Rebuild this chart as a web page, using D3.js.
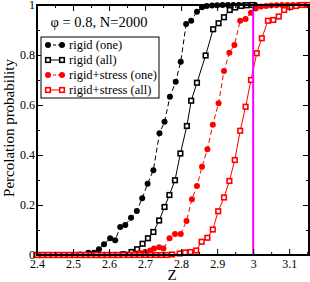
<!DOCTYPE html>
<html>
<head>
<meta charset="utf-8">
<script src="https://cdn.jsdelivr.net/npm/d3@7/dist/d3.min.js"></script>
<style>
  body { margin:0; background:#fff; }
  svg text { font-family:"Liberation Serif","Times New Roman",serif; }
</style>
</head>
<body>
<div class="chart"></div>
<script>
// 数据：四条曲线 (Z, 概率)
var zRigidOne = [2.40,2.415,2.43,2.445,2.46,2.475,2.49,2.505,2.52,2.5425,2.558,2.572,2.586,2.603,2.617,2.631,2.645,2.661,2.677,2.692,2.707,2.723,2.740,2.754,2.769,2.785,2.799,2.814,2.828,2.844,2.858,2.871,2.886,2.90,2.915,2.93,2.945,2.96,2.975,2.99,3.005];
var pRigidOne = [0,0,0,0,0,0,0,0,0.002,0.009,0.009,0.023,0.043,0.067,0.059,0.112,0.12,0.149,0.176,0.227,0.285,0.339,0.487,0.533,0.633,0.693,0.773,0.924,0.937,0.973,0.991,0.996,0.998,0.999,1,1,1,1,1,1,1];

var zRigidAll = [2.40,2.415,2.43,2.445,2.46,2.475,2.49,2.505,2.52,2.535,2.55,2.565,2.58,2.595,2.61,2.625,2.64,2.6625,2.678,2.693,2.708,2.723,2.739,2.754,2.7675,2.783,2.798,2.816,2.828,2.844,2.868,2.889,2.904,2.919,2.935,2.95,2.967,2.982,2.997];
var pRigidAll = [0,0,0,0,0,0,0,0,0,0,0,0,0,0,0,0,0.003,0.012,0.023,0.045,0.067,0.092,0.138,0.192,0.24,0.299,0.406,0.516,0.617,0.689,0.798,0.903,0.927,0.951,0.98,0.99,0.996,0.999,1];

var zStressOne = [2.40,2.415,2.43,2.445,2.46,2.475,2.49,2.505,2.52,2.535,2.55,2.565,2.58,2.595,2.61,2.625,2.64,2.655,2.67,2.686,2.700,2.714,2.725,2.739,2.751,2.768,2.783,2.799,2.815,2.830,2.844,2.858,2.873,2.888,2.904,2.919,2.934,2.948,2.964,2.979,2.994,3.007,3.022,3.036,3.05,3.065,3.08,3.095,3.11,3.125,3.14,3.155];
var pStressOne = [0,0,0,0,0,0,0,0,0,0,0,0,0,0,0,0,0,0.002,0.004,0.008,0.012,0.018,0.026,0.031,0.026,0.067,0.084,0.084,0.136,0.223,0.276,0.353,0.423,0.521,0.607,0.736,0.809,0.84,0.937,0.944,0.969,0.986,0.994,0.996,0.998,0.999,1,1,1,1,1,1];

var zStressAll = [2.40,2.415,2.43,2.445,2.46,2.475,2.49,2.505,2.52,2.535,2.55,2.565,2.58,2.595,2.61,2.625,2.64,2.655,2.67,2.685,2.70,2.715,2.73,2.745,2.76,2.775,2.796,2.811,2.826,2.842,2.857,2.873,2.888,2.903,2.919,2.934,2.949,2.964,2.979,2.994,3.010,3.024,3.041,3.056,3.071,3.086,3.103,3.119,3.136,3.153];
var pStressAll = [0,0,0,0,0,0,0,0,0,0,0,0,0,0,0,0,0,0,0,0,0,0,0,0,0,0.002,0.006,0.01,0.012,0.018,0.053,0.069,0.102,0.175,0.23,0.296,0.38,0.497,0.593,0.7,0.807,0.867,0.937,0.94,0.954,0.98,0.992,0.996,1,1];

var legendLabels = ["rigid (one)","rigid (all)","rigid+stress (one)","rigid+stress (all)"];
var xTicks = [2.4,2.5,2.6,2.7,2.8,2.9,3,3.1];
var xMinor = [2.45,2.55,2.65,2.75,2.85,2.95,3.05,3.15];
var yTicks = [0,0.2,0.4,0.6,0.8,1];
var yMinor = [0.1,0.3,0.5,0.7,0.9];
var zCritical = 3;

var series = [
  {z:zRigidOne, p:pRigidOne, color:"#000", dash:"5,3", sym:"circle"},
  {z:zRigidAll, p:pRigidAll, color:"#000", dash:null, sym:"square"},
  {z:zStressOne, p:pStressOne, color:"#ff0000", dash:"5,3", sym:"circle"},
  {z:zStressAll, p:pStressAll, color:"#ff0000", dash:null, sym:"square"}
];

var W = 310, H = 282;
var x = d3.scaleLinear().domain([2.4,3.155]).range([37,309]);
var y = d3.scaleLinear().domain([0,1]).range([255,5]);

var svg = d3.select(".chart").append("svg")
  .attr("width",W).attr("height",H);

// 曲线
var line = d3.line().x(function(d){return x(d[0]);}).y(function(d){return y(d[1]);});

function drawSquare(g,cx,cy,color){
  g.append("rect")
    .attr("x",cx-2.3).attr("y",cy-2.3)
    .attr("width",4.6).attr("height",4.6)
    .attr("fill","#fff")
    .attr("stroke",color)
    .attr("stroke-width",1.6);
}

series.forEach(function(s){
  var pts = s.z.map(function(z,i){return [z,s.p[i]];});
  var g = svg.append("g");
  g.append("path")
    .attr("d",line(pts))
    .attr("fill","none")
    .attr("stroke",s.color)
    .attr("stroke-width",1)
    .attr("stroke-dasharray",s.dash);
  pts.forEach(function(d){
    if(s.sym == "circle"){
      g.append("circle")
        .attr("cx",x(d[0])).attr("cy",y(d[1]))
        .attr("r",3)
        .attr("fill",s.color);
    }else{
      drawSquare(g,x(d[0]),y(d[1]),s.color);
    }
  });
});

// Z = 3 竖线
svg.append("line")
  .attr("x1",x(zCritical)).attr("x2",x(zCritical))
  .attr("y1",y(0)).attr("y2",y(1))
  .attr("stroke","#ff00ff").attr("stroke-width",2);

// 坐标轴
function styleAxis(g){
  g.select(".domain").remove();
  g.selectAll("line").attr("stroke","#000").attr("stroke-width",1);
  g.selectAll("text").attr("font-size","12px").attr("fill","#000")
    .attr("font-family","Liberation Serif, serif");
}
svg.append("g").attr("transform","translate(0,255)")
  .call(d3.axisBottom(x).tickValues(xTicks).tickSize(-6).tickPadding(4).tickFormat(d3.format("")))
  .call(styleAxis);
svg.append("g").attr("transform","translate(0,255)")
  .call(d3.axisBottom(x).tickValues(xMinor).tickSize(-3).tickFormat(""))
  .call(styleAxis);
svg.append("g").attr("transform","translate(0,5)")
  .call(d3.axisTop(x).tickValues(xTicks).tickSize(-6).tickFormat(""))
  .call(styleAxis);
svg.append("g").attr("transform","translate(0,5)")
  .call(d3.axisTop(x).tickValues(xMinor).tickSize(-3).tickFormat(""))
  .call(styleAxis);
svg.append("g").attr("transform","translate(37,0)")
  .call(d3.axisLeft(y).tickValues(yTicks).tickSize(-6).tickPadding(2).tickFormat(d3.format("")))
  .call(styleAxis);
svg.append("g").attr("transform","translate(37,0)")
  .call(d3.axisLeft(y).tickValues(yMinor).tickSize(-3).tickFormat(""))
  .call(styleAxis);
svg.append("g").attr("transform","translate(309,0)")
  .call(d3.axisRight(y).tickValues(yTicks).tickSize(-6).tickFormat(""))
  .call(styleAxis);
svg.append("g").attr("transform","translate(309,0)")
  .call(d3.axisRight(y).tickValues(yMinor).tickSize(-3).tickFormat(""))
  .call(styleAxis);

// 边框
svg.append("rect")
  .attr("x",37).attr("y",5).attr("width",272).attr("height",250)
  .attr("fill","none").attr("stroke","#000").attr("stroke-width",2);

// 轴标题
svg.append("text")
  .attr("transform","translate(14,128) rotate(-90)")
  .attr("text-anchor","middle")
  .attr("font-size","15px")
  .text("Percolation probability");
svg.append("text")
  .attr("x",172).attr("y",280)
  .attr("text-anchor","middle")
  .attr("font-size","15px")
  .text("Z");

// 标题
svg.append("text")
  .attr("x",99).attr("y",27)
  .attr("text-anchor","middle")
  .attr("font-size","14.5px")
  .text("φ = 0.8, N=2000");

// 图例
var lg = svg.append("g").attr("transform","translate(41,37)");
lg.append("rect")
  .attr("width",118).attr("height",61)
  .attr("fill","#fff").attr("stroke","#000").attr("stroke-width",1);
series.forEach(function(s,i){
  var yy = 8 + i*15;
  lg.append("line")
    .attr("x1",7).attr("x2",21).attr("y1",yy).attr("y2",yy)
    .attr("stroke",s.color).attr("stroke-width",1)
    .attr("stroke-dasharray",s.dash ? "3,2" : null);
  [7,21].forEach(function(xx){
    if(s.sym == "circle"){
      lg.append("circle").attr("cx",xx).attr("cy",yy).attr("r",3).attr("fill",s.color);
    }else{
      drawSquare(lg,xx,yy,s.color);
    }
  });
  lg.append("text")
    .attr("x",28).attr("y",yy+4)
    .attr("font-size","12.5px")
    .text(legendLabels[i]);
});
</script>
</body>
</html>
